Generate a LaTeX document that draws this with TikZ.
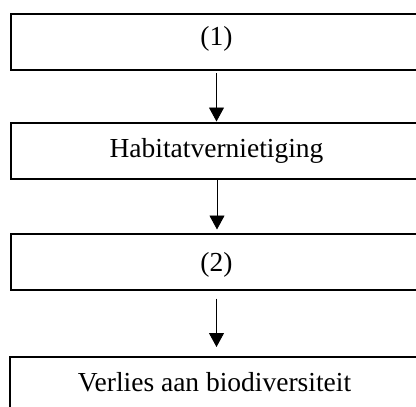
\documentclass[tikz,border=0pt]{standalone}
\usepackage{fontspec}
\setmainfont{Liberation Serif}
\usetikzlibrary{arrows.meta}
\begin{document}
\begin{tikzpicture}[x=1pt,y=-1pt,
  stagebox/.style={draw, line width=1.5pt, rectangle, inner sep=0pt,
    minimum width=411pt, minimum height=56pt, anchor=north},
  stagetext/.style={anchor=base, inner sep=0pt,
    font=\fontsize{27.5}{30}\selectfont},
  flow/.style={line width=0.9pt, -{Triangle[width=15pt,length=14pt]}}]
  \useasboundingbox (0,0) rectangle (416,407);
  \clip (0,0) rectangle (416,407);
  % boxes of the causal chain (they run past the right edge)
  \node[stagebox] (b1) at (216.5,13) {};
  \node[stagebox] (b2) at (216.5,122) {};
  \node[stagebox] (b3) at (216.5,233) {};
  \node[stagebox] (b4) at (215.5,356) {};
  % labels, set on their baselines
  \node[stagetext] (t1) at (216.5,45.7) {(1)};
  \node[stagetext] (t2) at (216.5,157) {Habitatvernietiging};
  \node[stagetext] (t3) at (216.5,271.7) {(2)};
  \node[stagetext] (t4) at (214.5,391.7) {Verlies aan biodiversiteit};
  % arrows between the boxes
  \draw[flow, shorten <=2.5pt, shorten >=0.5pt] (b1.south) -- (b2.north);
  \draw[flow, shorten >=3.5pt] ([xshift=0.5pt]b2.south) -- ([xshift=0.5pt]b3.north);
  \draw[flow, shorten <=8pt, shorten >=9pt] (b3.south) -- ([xshift=1pt]b4.north);
\end{tikzpicture}
\end{document}
